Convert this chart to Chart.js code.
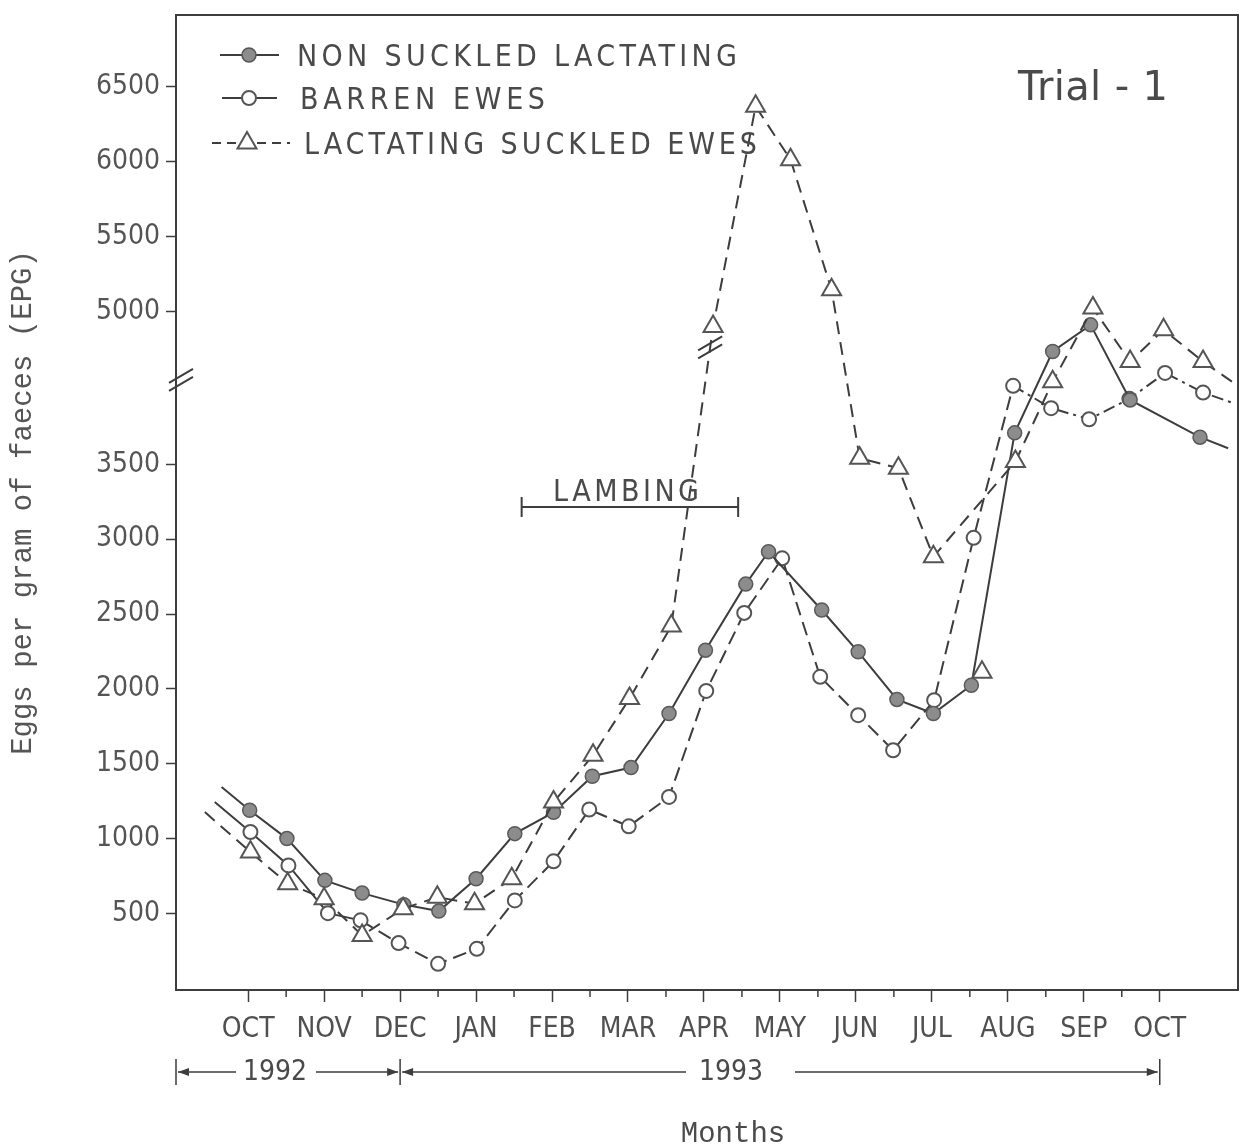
<!DOCTYPE html>
<html>
<head>
<meta charset="utf-8">
<title>EPG Trial 1</title>
<script src="https://cdn.jsdelivr.net/npm/chart.js@4.4.1/dist/chart.umd.min.js"></script>
<style>
  html, body { margin: 0; padding: 0; background: #fff; }
  #wrap { position: relative; width: 1251px; height: 1145px; }
</style>
</head>
<body>
<div id="wrap"><canvas id="epgChart"></canvas></div>
<script>
// ── Data (x = months counted from Oct 1992, y = eggs per gram) ──────────
// first and last entry of each series are only line ends (no marker)
var MONTH_LABELS = ["OCT", "NOV", "DEC", "JAN", "FEB", "MAR", "APR", "MAY", "JUN", "JUL", "AUG", "SEP", "OCT"];
var Y_TICK_VALUES = [500, 1000, 1500, 2000, 2500, 3000, 3500, 5000, 5500, 6000, 6500];
var SERIES_NAMES = ["NON SUCKLED LACTATING", "BARREN EWES", "LACTATING SUCKLED EWES"];
var YEAR_LABELS = ["1992", "1993"];

var nonSuckledMonth = [-0.35, 0.02, 0.51, 1.01, 1.50, 2.05, 2.51, 3.00, 3.51, 4.02, 4.53, 5.04, 5.54, 6.02, 6.55, 6.85, 7.55, 8.03, 8.54, 9.02, 9.52, 10.09, 10.59, 11.09, 11.61, 12.53, 12.90];
var nonSuckledEpg = [1345, 1190, 1001, 722, 637, 560, 517, 733, 1034, 1176, 1417, 1475, 1836, 2259, 2700, 2916, 2527, 2248, 1930, 1836, 2025, 3710, 4733, 4911, 3930, 3681, 3607];

var barrenMonth = [-0.44, 0.03, 0.53, 1.05, 1.48, 1.98, 2.50, 3.01, 3.51, 4.02, 4.49, 5.01, 5.54, 6.03, 6.53, 7.03, 7.53, 8.03, 8.49, 9.03, 9.55, 10.07, 10.57, 11.07, 11.60, 12.07, 12.57, 12.95];
var barrenEpg = [1245, 1045, 822, 503, 455, 303, 165, 265, 588, 849, 1195, 1083, 1279, 1987, 2508, 2872, 2081, 1825, 1591, 1925, 3009, 4024, 3875, 3801, 3937, 4590, 3979, 3912];

var suckledMonth = [-0.57, 0.03, 0.52, 1.00, 1.50, 2.04, 2.49, 2.98, 3.47, 4.02, 4.54, 5.02, 5.57, 6.12, 6.68, 7.14, 7.68, 8.05, 8.56, 9.02, 10.10, 10.59, 11.12, 11.61, 12.05, 12.57, 12.95];
var suckledEpg = [1178, 911, 700, 600, 354, 533, 610, 566, 733, 1245, 1557, 1936, 2420, 4900, 6370, 6014, 5145, 3541, 3474, 2883, 3518, 4052, 5023, 4666, 4878, 4666, 4052];

// lone triangle in August that is not joined to its line in the figure
var suckledLoneMonth = [9.66];
var suckledLoneEpg = [2112];

// lambing period bar
var LAMBING_FROM = 3.6;
var LAMBING_TO = 6.45;
var LAMBING_EPG = 3215;

// ── Broken axis: values above the break are drawn 480 lower ────────────
var BREAK_SHIFT = 480;
var BREAK_AT = 4064;
function toAxis(v) { return v > 4500 ? v - BREAK_SHIFT : v; }
function fromAxis(v) { return v > BREAK_AT ? v + BREAK_SHIFT : v; }

var INK = "#3d3d3d";
var TEXT = "#4a4a4a";
var SANS = "'DejaVu Sans Condensed', 'Liberation Sans Narrow', 'DejaVu Sans', sans-serif";
var MONO = "'Liberation Mono', 'DejaVu Sans Mono', monospace";

function points(months, values) {
    return months.map(function (m, i) { return { x: m, y: toAxis(values[i]) }; });
}
function edgeRadius(r) {
    return function (ctx) {
        var n = ctx.dataset.data.length;
        return (ctx.dataIndex === 0 || ctx.dataIndex === n - 1) ? 0 : r;
    };
}

// ── Drawing helpers ────────────────────────────────────────────────────
function fitText(ctx, text, x, y, width) {
    ctx.letterSpacing = "0px";
    var w = ctx.measureText(text).width;
    var ls = (width - w) / (text.length - 1);
    ctx.letterSpacing = ls + "px";
    ctx.fillText(text, x, y);
    ctx.letterSpacing = "0px";
}
function breakMark(ctx, cx, cy) {
    ctx.save();
    ctx.strokeStyle = INK;
    ctx.lineWidth = 2;
    [-4, 4].forEach(function (d) {
        ctx.beginPath();
        ctx.moveTo(cx - 12, cy + d + 7);
        ctx.lineTo(cx + 12, cy + d - 7);
        ctx.stroke();
    });
    ctx.restore();
}
function marker(ctx, style, x, y) {
    ctx.save();
    ctx.strokeStyle = "#555";
    ctx.setLineDash([]);
    ctx.beginPath();
    if (style === "filled") {
        ctx.fillStyle = "#8c8c8c";
        ctx.lineWidth = 1.5;
        ctx.arc(x, y, 7, 0, Math.PI * 2);
    } else if (style === "open") {
        ctx.fillStyle = "#fff";
        ctx.lineWidth = 2;
        ctx.arc(x, y, 7, 0, Math.PI * 2);
    } else {
        ctx.fillStyle = "#fff";
        ctx.lineWidth = 2;
        ctx.moveTo(x, y - 11);
        ctx.lineTo(x + 9.5, y + 5.5);
        ctx.lineTo(x - 9.5, y + 5.5);
        ctx.closePath();
    }
    ctx.fill();
    ctx.stroke();
    ctx.restore();
}
function arrowHead(ctx, x, y, dir) {
    ctx.beginPath();
    ctx.moveTo(x, y);
    ctx.lineTo(x - dir * 11, y - 4);
    ctx.lineTo(x - dir * 11, y + 4);
    ctx.closePath();
    ctx.fill();
}

// ── Decorations: frame, minor ticks, legend, notes, year row ──────────
var figureDecor = {
    id: "figureDecor",
    afterDraw: function (chart) {
        var ctx = chart.ctx;
        var a = chart.chartArea;
        var xs = chart.scales.x;
        var ys = chart.scales.y;
        ctx.save();
        ctx.strokeStyle = INK;
        ctx.fillStyle = INK;
        ctx.lineWidth = 2;

        // top and right edges of the box
        ctx.beginPath();
        ctx.moveTo(a.left, a.top);
        ctx.lineTo(a.right, a.top);
        ctx.lineTo(a.right, a.bottom);
        ctx.stroke();

        // half-month ticks
        ctx.lineWidth = 1.5;
        for (var m = 0.5; m < 12; m += 1) {
            var px = xs.getPixelForValue(m);
            ctx.beginPath();
            ctx.moveTo(px, a.bottom);
            ctx.lineTo(px, a.bottom + 7);
            ctx.stroke();
        }

        // axis break and the break on the suckled line
        breakMark(ctx, a.left + 5, ys.getPixelForValue(BREAK_AT));
        var meta = chart.getDatasetMeta(0);
        var p0 = meta.data[12], p1 = meta.data[13];
        var t = 0.93;
        breakMark(ctx, p0.x + (p1.x - p0.x) * t, p0.y + (p1.y - p0.y) * t);

        // legend
        var rows = [
            { y: 55, x1: 220, x2: 279, mx: 249, style: "filled", dash: [], tx: 297, tw: 440 },
            { y: 98, x1: 222, x2: 277, mx: 249, style: "open", dash: [], tx: 300, tw: 245 },
            { y: 143, x1: 212, x2: 290, mx: 247, style: "tri", dash: [9, 6], tx: 304, tw: 453 }
        ];
        ctx.font = "30px " + SANS;
        ctx.textBaseline = "alphabetic";
        ctx.textAlign = "left";
        rows.forEach(function (r, i) {
            ctx.save();
            ctx.strokeStyle = INK;
            ctx.lineWidth = 2;
            ctx.setLineDash(r.dash);
            ctx.beginPath();
            ctx.moveTo(r.x1, r.y);
            ctx.lineTo(r.x2, r.y);
            ctx.stroke();
            ctx.restore();
            marker(ctx, r.style, r.mx, r.y);
            ctx.fillStyle = TEXT;
            fitText(ctx, SERIES_NAMES[i], r.tx, r.y + 11, r.tw);
        });

        // Trial - 1
        ctx.fillStyle = TEXT;
        ctx.font = "40px 'DejaVu Sans', sans-serif";
        fitText(ctx, "Trial - 1", 1018, 100, 150);

        // lambing bar
        var lx1 = xs.getPixelForValue(LAMBING_FROM);
        var lx2 = xs.getPixelForValue(LAMBING_TO);
        var ly = ys.getPixelForValue(LAMBING_EPG);
        ctx.strokeStyle = INK;
        ctx.lineWidth = 2;
        ctx.beginPath();
        ctx.moveTo(lx1, ly); ctx.lineTo(lx2, ly);
        ctx.moveTo(lx1, ly - 10); ctx.lineTo(lx1, ly + 10);
        ctx.moveTo(lx2, ly - 10); ctx.lineTo(lx2, ly + 10);
        ctx.stroke();
        ctx.fillStyle = TEXT;
        ctx.font = "30px " + SANS;
        fitText(ctx, "LAMBING", 553, ly - 6, 146);

        // year row
        var yr = 1072;
        var xl = a.left, xd = xs.getPixelForValue(2), xo = xs.getPixelForValue(12);
        ctx.strokeStyle = INK;
        ctx.fillStyle = INK;
        ctx.lineWidth = 1.5;
        ctx.beginPath();
        [xl, xd, xo].forEach(function (bx) { ctx.moveTo(bx, yr - 13); ctx.lineTo(bx, yr + 13); });
        ctx.moveTo(xl + 2, yr); ctx.lineTo(236, yr);
        ctx.moveTo(316, yr); ctx.lineTo(xd - 2, yr);
        ctx.moveTo(xd + 2, yr); ctx.lineTo(686, yr);
        ctx.moveTo(795, yr); ctx.lineTo(xo - 2, yr);
        ctx.stroke();
        arrowHead(ctx, xl + 2, yr, -1);
        arrowHead(ctx, xd - 2, yr, 1);
        arrowHead(ctx, xd + 2, yr, -1);
        arrowHead(ctx, xo - 2, yr, 1);
        ctx.fillStyle = TEXT;
        ctx.font = "28px " + SANS;
        ctx.textAlign = "center";
        ctx.textBaseline = "middle";
        ctx.fillText(YEAR_LABELS[0], 275, yr + 1);
        ctx.fillText(YEAR_LABELS[1], 731, yr + 1);

        // x-axis title
        ctx.font = "29px " + MONO;
        ctx.fillText("Months", 733, 1134);
        ctx.restore();
    }
};

// ── Chart ──────────────────────────────────────────────────────────────
var canvas = document.getElementById("epgChart");
var chart = new Chart(canvas, {
    type: "line",
    data: {
        datasets: [
            {
                label: SERIES_NAMES[2],
                data: points(suckledMonth, suckledEpg),
                borderColor: INK,
                borderWidth: 2,
                borderDash: [13, 8],
                pointStyle: "triangle",
                pointRadius: edgeRadius(11),
                pointBackgroundColor: "#fff",
                pointBorderColor: "#555",
                pointBorderWidth: 2,
                tension: 0,
                fill: false
            },
            {
                label: SERIES_NAMES[2] + " (Aug)",
                data: points(suckledLoneMonth, suckledLoneEpg),
                showLine: false,
                pointStyle: "triangle",
                pointRadius: 11,
                pointBackgroundColor: "#fff",
                pointBorderColor: "#555",
                pointBorderWidth: 2
            },
            {
                label: SERIES_NAMES[0],
                data: points(nonSuckledMonth, nonSuckledEpg),
                borderColor: INK,
                borderWidth: 2,
                pointStyle: "circle",
                pointRadius: edgeRadius(7),
                pointBackgroundColor: "#8c8c8c",
                pointBorderColor: "#5a5a5a",
                pointBorderWidth: 1.5,
                tension: 0,
                fill: false
            },
            {
                label: SERIES_NAMES[1],
                data: points(barrenMonth, barrenEpg),
                borderColor: INK,
                borderWidth: 2,
                pointStyle: "circle",
                pointRadius: edgeRadius(7),
                pointBackgroundColor: "#fff",
                pointBorderColor: "#555",
                pointBorderWidth: 2,
                tension: 0,
                fill: false,
                // solid at the start, dashed through the year, dash-dot after August
                segment: {
                    borderDash: function (ctx) {
                        if (ctx.p0DataIndex < 4) { return []; }
                        if (ctx.p0DataIndex >= 21) { return [12, 5, 3, 5]; }
                        return [14, 7];
                    }
                }
            }
        ]
    },
    options: {
        responsive: true,
        maintainAspectRatio: false,
        animation: false,
        layout: { padding: { top: 15, right: 8, left: 0, bottom: 0 } },
        plugins: {
            legend: { display: false },
            tooltip: { enabled: false }
        },
        scales: {
            x: {
                type: "linear",
                min: -0.95,
                max: 13.03,
                afterBuildTicks: function (scale) {
                    scale.ticks = MONTH_LABELS.map(function (_, i) { return { value: i }; });
                },
                afterFit: function (scale) {
                    scale.height = 155;
                    scale.paddingLeft = 0;
                    scale.paddingRight = 0;
                },
                ticks: {
                    autoSkip: false,
                    maxRotation: 0,
                    padding: 11,
                    color: "#505050",
                    font: { family: SANS, size: 28 },
                    callback: function (v) { return MONTH_LABELS[v]; }
                },
                grid: { drawOnChartArea: false, drawTicks: true, tickLength: 12, tickWidth: 1.5, tickColor: INK },
                border: { display: true, width: 2, color: INK }
            },
            y: {
                type: "linear",
                min: -10,
                max: 6500,
                afterBuildTicks: function (scale) {
                    scale.ticks = Y_TICK_VALUES.map(function (v) { return { value: toAxis(v) }; });
                },
                afterFit: function (scale) {
                    scale.width = 176;
                    scale.paddingTop = 0;
                    scale.paddingBottom = 0;
                },
                ticks: {
                    autoSkip: false,
                    padding: 6,
                    color: "#555",
                    font: { family: SANS, size: 28 },
                    callback: function (v) { return String(fromAxis(v)); }
                },
                title: {
                    display: true,
                    text: "Eggs per gram of faeces (EPG)",
                    color: "#555",
                    font: { family: MONO, size: 29 },
                    padding: { top: 6, bottom: 0 }
                },
                grid: { drawOnChartArea: false, drawTicks: true, tickLength: 10, tickWidth: 1.5, tickColor: INK },
                border: { display: true, width: 2, color: INK }
            }
        }
    },
    plugins: [figureDecor]
});
</script>
</body>
</html>
